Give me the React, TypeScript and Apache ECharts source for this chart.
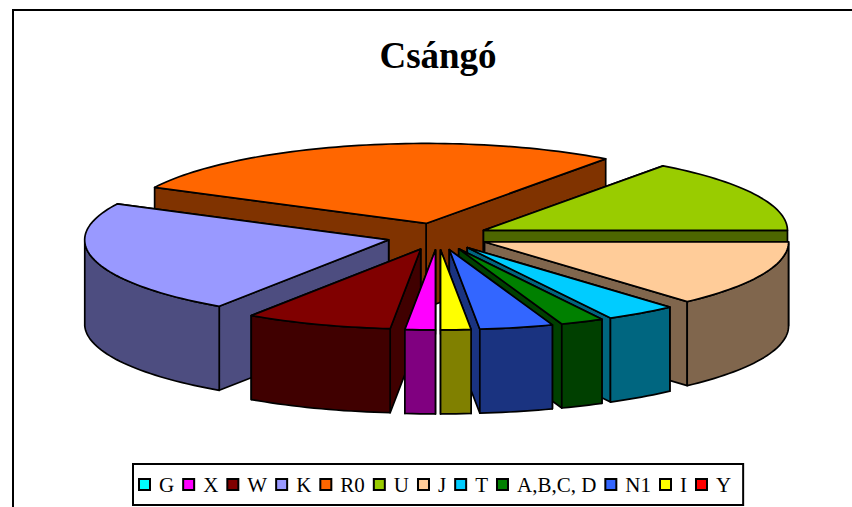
import React, { useEffect, useRef } from "react";
import * as echarts from "echarts";

const title = "Csángó";
const categories = ["G", "X", "W", "K", "R0", "U", "J", "T", "A,B,C, D", "N1", "I", "Y"];
const values = [0, 1.6, 7.8, 23, 27.6, 14.9, 13.4, 3.8, 2.3, 3.9, 1.6, 0];
const topColors = ["#00FFFF", "#FF00FF", "#800000", "#9999FF", "#FF6600", "#99CC00", "#FFCC99", "#00CCFF", "#008000", "#3366FF", "#FFFF00", "#FF0000"];
const sideColors = ["#008080", "#800080", "#400000", "#4D4D80", "#803300", "#4D6600", "#80664D", "#006680", "#004000", "#1A3380", "#808000", "#800000"];

const CX = 438, CY = 236.5, RX = 304, RY = 80, DEPTH = 84, EXPLODE = 51;
const RATIO = RY / RX;
const total = values.reduce((a, b) => a + b, 0);
const rad = (d: number) => (d * Math.PI) / 180;

function sliceAngles(i: number) {
  let s = 0;
  for (let k = 0; k < i; k++) s += values[k];
  const a0 = (s / total) * 360;
  const a1 = ((s + values[i]) / total) * 360;
  return [a0, a1, (a0 + a1) / 2];
}

const order = categories
  .map((_, i) => i)
  .sort((a, b) => Math.cos(rad(sliceAngles(a)[2])) - Math.cos(rad(sliceAngles(b)[2])));

function renderSlice(i: number) {
  return () => {
    if (!values[i]) return { type: "group", children: [] };
    const [a0, a1, mid] = sliceAngles(i);
    const ax = CX - EXPLODE * Math.sin(rad(mid));
    const ay = CY + EXPLODE * RATIO * Math.cos(rad(mid));
    const pt = (t: number, dz = 0): number[] => [
      ax - RX * Math.sin(rad(t)),
      ay + RY * Math.cos(rad(t)) + dz,
    ];
    const arc: number[][] = [];
    const steps = Math.max(2, Math.ceil((a1 - a0) / 1.5));
    for (let k = 0; k <= steps; k++) arc.push(pt(a0 + ((a1 - a0) * k) / steps));
    const style = { fill: sideColors[i], stroke: "#000", lineWidth: 1.7, lineJoin: "round" };
    const wall = (t: number) => ({
      type: "polygon",
      shape: { points: [[ax, ay], pt(t), pt(t, DEPTH), [ax, ay + DEPTH]] },
      style,
    });
    // the wall nearer the back is painted first
    const walls = [a0, a1].sort((p, q) => Math.cos(rad(p)) - Math.cos(rad(q))).map(wall);
    const children: any[] = [...walls];
    const front = arc
      .map((p, k) => ({ p, t: a0 + ((a1 - a0) * k) / steps }))
      .filter((o) => Math.cos(rad(o.t)) >= -0.001)
      .map((o) => o.p);
    if (front.length > 1) {
      children.push({
        type: "polygon",
        shape: { points: [...front, ...front.slice().reverse().map((p) => [p[0], p[1] + DEPTH])] },
        style,
      });
    }
    children.push({
      type: "polygon",
      shape: { points: [[ax, ay], ...arc] },
      style: { ...style, fill: topColors[i] },
    });
    return { type: "group", children };
  };
}

export default function App() {
  const ref = useRef<HTMLDivElement>(null);
  useEffect(() => {
    const chart = echarts.init(ref.current!, undefined, { renderer: "svg" });
    chart.setOption({
      animation: false,
      backgroundColor: "#fff",
      title: {
        text: title,
        left: 438,
        top: 37,
        padding: 0,
        textAlign: "center",
        textStyle: { fontFamily: "Liberation Serif", fontWeight: "bold", fontSize: 37, color: "#000" },
      },
      legend: {
        data: categories.map((name, i) => ({
          name,
          icon: "rect",
          itemStyle: { color: topColors[i], borderColor: "#000", borderWidth: 2 },
        })),
        left: 133,
        top: 464,
        width: 690,
        orient: "horizontal",
        itemWidth: 11,
        itemHeight: 11,
        itemGap: 8,
        padding: [10, 12, 10, 5],
        borderColor: "#000",
        borderWidth: 2,
        selectedMode: false,
        textStyle: { fontFamily: "Liberation Serif", fontSize: 21, color: "#000", padding: [0, 0, 0, 4] },
      },
      graphic: [
        {
          type: "rect",
          silent: true,
          z: -1,
          shape: { x: 13, y: 10, width: 860, height: 520 },
          style: { fill: "none", stroke: "#000", lineWidth: 2 },
        },
      ],
      series: categories.map((name, i) => ({
        type: "custom",
        name,
        coordinateSystem: "none",
        z: 2 + order.indexOf(i),
        itemStyle: { color: topColors[i] },
        data: [[values[i]]],
        silent: true,
        renderItem: renderSlice(i),
      })),
    });
    return () => chart.dispose();
  }, []);
  return <div ref={ref} style={{ position: "fixed", left: 0, top: 0, width: 852, height: 507 }} />;
}
